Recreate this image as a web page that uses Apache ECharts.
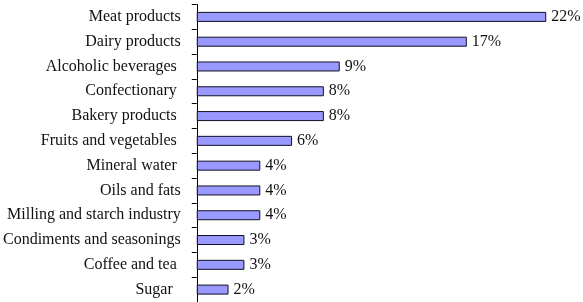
<!DOCTYPE html>
<html>
<head>
<meta charset="utf-8">
<script src="https://cdn.jsdelivr.net/npm/echarts@6/dist/echarts.min.js"></script>
<style>
  html, body { margin: 0; padding: 0; background: #fff; }
  #chart { width: 583px; height: 302px; }
</style>
</head>
<body>
<div id="chart"></div>
<script>
// categories top to bottom
var categories = ['Meat products', 'Dairy products', 'Alcoholic beverages ', 'Confectionary ',
  'Bakery products ', 'Fruits and vegetables ', 'Mineral water ', 'Oils and fats',
  'Milling and starch industry', 'Condiments and seasonings', 'Coffee and tea ', 'Sugar  '];
var shares = [22, 17, 9, 8, 8, 6, 4, 4, 4, 3, 3, 2];

var chart = echarts.init(document.getElementById('chart'));
chart.setOption({
  animation: false,
  grid: { left: 196, top: 4.5, bottom: -3, width: 382 },
  xAxis: {
    type: 'value',
    min: 0,
    max: 24,
    show: false
  },
  yAxis: {
    type: 'category',
    inverse: true,
    data: categories,
    axisLine: { show: true, lineStyle: { color: '#000', width: 1 } },
    axisTick: { show: true, alignWithLabel: false, length: 5, lineStyle: { color: '#000' } },
    axisLabel: {
      margin: 16,
      color: '#111',
      fontFamily: 'Liberation Serif',
      fontSize: 16
    }
  },
  series: [{
    type: 'bar',
    data: shares,
    barWidth: 10,
    itemStyle: { color: '#9999ff', borderColor: '#111122', borderWidth: 1 },
    label: {
      show: true,
      position: 'right',
      distance: 5,
      formatter: '{c}%',
      color: '#111',
      fontFamily: 'Liberation Serif',
      fontSize: 16
    }
  }]
});
</script>
</body>
</html>
